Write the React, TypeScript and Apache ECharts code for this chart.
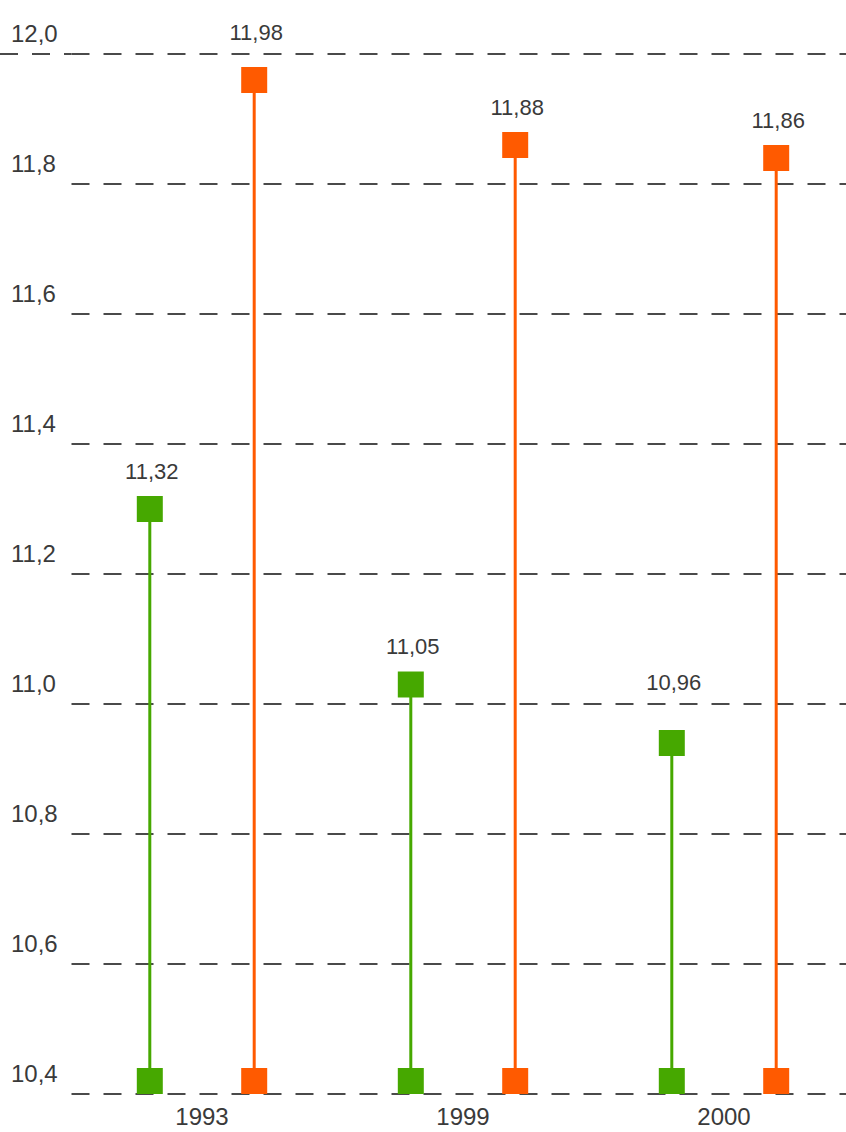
import React, { useEffect, useRef } from "react";
import * as echarts from "echarts";

const categories = ["1993", "1999", "2000"];
const greenValues = [11.32, 11.05, 10.96];
const orangeValues = [11.98, 11.88, 11.86];
const yMin = 10.4;
const yMax = 12.0;
const yStep = 0.2;

const GREEN = "#46a800";
const ORANGE = "#ff5a00";
const FONT = "'Liberation Sans Narrow', 'Liberation Sans', Arial, sans-serif";
const fmt2 = (v: number) => v.toFixed(2).replace(".", ",");
const fmt1 = (v: number) => v.toFixed(1).replace(".", ",");

function lollipop(name: string, values: number[], color: string, sign: number) {
  return {
    type: "custom",
    name,
    data: values.map((v, i) => [i, v]),
    z: 5,
    renderItem: (params: any, api: any) => {
      const cat = api.value(0);
      const val = api.value(1);
      const top = api.coord([cat, val]);
      const bot = api.coord([cat, yMin]);
      const band = api.size([1, 0])[0];
      const x = top[0] + sign * band * 0.2;
      const s = 26;
      let labelY = top[1] - 25;
      // keep the value label clear of the dashed grid lines
      const step = api.size([0, yStep])[1];
      const topPx = api.coord([cat, yMax])[1];
      const k = Math.round((labelY - topPx) / step);
      const gy = topPx + k * step;
      if (Math.abs(labelY - gy) < 14) labelY = gy - 22;
      return {
        type: "group",
        children: [
          {
            type: "line",
            shape: { x1: x, y1: top[1] + 2, x2: x, y2: bot[1] - 2 },
            style: { stroke: color, lineWidth: 3 },
          },
          {
            type: "rect",
            shape: { x: x - s / 2, y: top[1], width: s, height: s },
            style: { fill: color },
          },
          {
            type: "rect",
            shape: { x: x - s / 2, y: bot[1] - s, width: s, height: s },
            style: { fill: color },
          },
          {
            type: "text",
            x: x + 2,
            y: labelY,
            style: {
              text: fmt2(val),
              fill: "#3a3a3a",
              font: `22px ${FONT}`,
              align: "center",
              verticalAlign: "middle",
            },
          },
        ],
      };
    },
  };
}

export default function App() {
  const ref = useRef<HTMLDivElement>(null);
  useEffect(() => {
    document.body.style.margin = "0";
    const chart = echarts.init(ref.current!, null, { renderer: "svg" });
    const gridLeft = 71.5;
    chart.setOption({
      animation: false,
      backgroundColor: "#ffffff",
      grid: { left: gridLeft, top: 54, bottom: 38, width: 783 },
      xAxis: {
        type: "category",
        data: categories,
        axisLine: { show: false },
        axisTick: { show: false },
        axisLabel: {
          margin: 10,
          color: "#3a3a3a",
          fontSize: 24,
          fontFamily: FONT,
        },
      },
      yAxis: {
        type: "value",
        min: yMin,
        max: yMax,
        interval: yStep,
        axisLine: { show: false },
        axisTick: { show: false },
        splitLine: {
          show: true,
          lineStyle: { color: "#4a4a4a", width: 2, type: [18, 14] },
        },
        axisLabel: {
          align: "left",
          verticalAlign: "bottom",
          margin: gridLeft - 11,
          padding: [0, 0, 9, 0],
          color: "#3a3a3a",
          fontSize: 24,
          fontFamily: FONT,
          formatter: (v: number) => fmt1(v),
        },
      },
      series: [
        lollipop("green", greenValues, GREEN, -1),
        lollipop("orange", orangeValues, ORANGE, 1),
      ],
    });
    const yTop = chart.convertToPixel({ yAxisIndex: 0 }, yMax) as number;
    chart.setOption({
      graphic: [
        {
          type: "line",
          shape: { x1: 0, y1: yTop, x2: gridLeft, y2: yTop },
          style: { stroke: "#4a4a4a", lineWidth: 2, lineDash: [18, 14] },
        },
      ],
    });
    return () => chart.dispose();
  }, []);
  return (
    <div
      style={{
        position: "absolute",
        left: 0,
        top: 0,
        width: 846,
        height: 1132,
        overflow: "hidden",
      }}
    >
      <div ref={ref} style={{ width: 870, height: 1132 }} />
    </div>
  );
}
